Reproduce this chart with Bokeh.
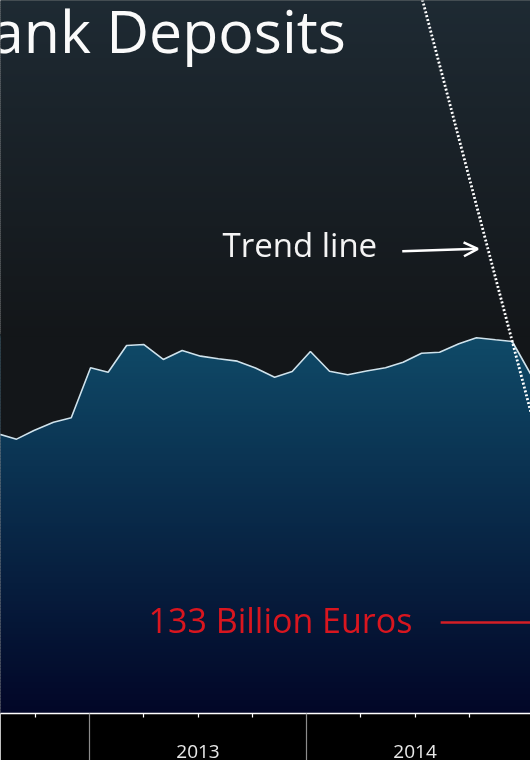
import numpy as np
from bokeh.plotting import figure
from bokeh.models import Range1d, FixedTicker, Arrow, OpenHead
from bokeh.core.properties import value
from bokeh.embed import file_html
from bokeh.resources import INLINE

# ---- data (decimal years, billion euros) ----
dates = [2012.581, 2012.664, 2012.744, 2012.834, 2012.916, 2013.005, 2013.086, 2013.171,
         2013.251, 2013.340, 2013.427, 2013.512, 2013.594, 2013.681, 2013.765, 2013.853,
         2013.934, 2014.018, 2014.106, 2014.190, 2014.276, 2014.364, 2014.445, 2014.530,
         2014.613, 2014.702, 2014.783, 2014.871, 2014.948, 2015.032]
deposits = [151.13, 150.63, 151.46, 152.26, 152.68, 157.49, 157.07, 159.63,
            159.73, 158.29, 159.15, 158.61, 158.36, 158.13, 157.47, 156.59,
            157.13, 159.06, 157.16, 156.82, 157.18, 157.49, 158.03, 158.89,
            158.99, 159.80, 160.38, 160.18, 160.02, 156.91]
trend_dates = [2014.52, 2015.08]
trend_values = [194.0, 149.54]
marker_level = 133.0
marker_label = "133 Billion Euros"
title_text = "ank Deposits"
trend_label = "Trend line"
quarter_ticks = [2012.75, 2013.25, 2013.5, 2013.75, 2014.25, 2014.5, 2014.75]
year_bounds = [2013.0, 2014.0]
year_label_pos = [2013.5, 2014.5]
year_labels = ["2013", "2014"]

X0, X1 = 2012.59, 2015.032
Y0 = 124.25
FRAME_H = 713
PX_PER_UNIT = 10.4
Y1 = Y0 + FRAME_H / PX_PER_UNIT

def yv(px):
    return Y1 - px * (Y1 - Y0) / FRAME_H

def hex2rgb(h):
    h = h.lstrip("#")
    return [int(h[i:i + 2], 16) for i in (0, 2, 4)]

def grad(c0, c1, n):
    a, b = np.array(hex2rgb(c0), float), np.array(hex2rgb(c1), float)
    out = []
    for t in np.linspace(0, 1, n):
        c = a + (b - a) * t
        out.append("#%02x%02x%02x" % tuple(int(round(v)) for v in c))
    return out

FONT = value("Open Sans")

def lift(size_px):
    # compensate the SVG baseline offset (~0.41 em)
    return 0.41 * size_px / PX_PER_UNIT

p = figure(frame_width=530, frame_height=FRAME_H, x_range=Range1d(X0, X1),
           y_range=Range1d(Y0, Y1),
           output_backend="svg", toolbar_location=None, min_border=0,
           styles={"position": "fixed", "left": "0px", "top": "0px"})
p.background_fill_color = "#131619"
p.border_fill_color = "#000000"
p.outline_line_color = None
p.grid.visible = False
p.yaxis.visible = False

# area gradient strips (full width, later covered above the series)
step = 3
tops = np.arange(334, FRAME_H, step)
cols = grad("#0f4a68", "#020627", len(tops))
p.quad(left=X0 - 1, right=X1 + 1, top=[yv(t - 0.6) for t in tops],
       bottom=[yv(min(t + step, FRAME_H + 5)) for t in tops],
       fill_color=cols, line_color=None)

# cover region above the series with the background colour
p.varea(x=dates, y1=deposits, y2=yv(333), fill_color="#131619")

# background gradient strips above the series
bstep = 2
btops = np.arange(-2, 336, bstep)
bcols = grad("#1e2a33", "#131619", len(btops))
p.quad(left=X0 - 1, right=X1 + 1, top=[yv(t - 0.6) for t in btops],
       bottom=[yv(t + bstep) for t in btops], fill_color=bcols, line_color=None)

# series outline
p.line(dates, deposits, line_color="#cfe2ec", line_width=1.6)

# trend line
p.line(trend_dates, trend_values, line_color="white", line_width=2.8, line_dash="2 2")

# marker line and label
p.segment(x0=[2014.618], y0=[marker_level], x1=[X1 + 0.1], y1=[marker_level],
          line_color="#d41f26", line_width=2.5)
p.text(x=[2013.272], y=[131.94 + lift(34)], text=[marker_label], text_color="#d9161f",
       text_font=FONT, text_font_size="34px", text_baseline="alphabetic")

# trend label and arrow
p.text(x=[2013.613], y=[168.03 + lift(33)], text=[trend_label], text_color="#f4f4f4",
       text_font=FONT, text_font_size="33px", text_baseline="alphabetic")
p.add_layout(Arrow(end=OpenHead(size=14, line_color="white", line_width=2.5),
                   x_start=2014.441, y_start=168.70, x_end=2014.789, y_end=168.93,
                   line_color="white", line_width=2.5))

# title (cropped)
p.text(x=[2012.546], y=[187.62 + lift(59)], text=[title_text], text_color="#fafafa",
       text_font=FONT, text_font_size="59px", text_baseline="alphabetic")

# x axis
ax = p.xaxis[0]
ax.ticker = FixedTicker(ticks=quarter_ticks, minor_ticks=year_bounds)
overrides = {float(t): "" for t in quarter_ticks}
for pos, lab in zip(year_label_pos, year_labels):
    overrides[float(pos)] = lab
ax.major_label_overrides = overrides
ax.axis_line_color = "white"
ax.axis_line_width = 1.5
ax.major_tick_line_color = "white"
ax.major_tick_line_width = 1.2
ax.major_tick_in = 0
ax.major_tick_out = 4
ax.minor_tick_line_color = "#8c8c8c"
ax.minor_tick_line_width = 1.2
ax.minor_tick_in = 0
ax.minor_tick_out = 48
ax.major_label_text_color = "#e8e8e8"
ax.major_label_text_font = "Open Sans"
ax.major_label_text_font_size = "19px"
ax.major_label_standoff = -17

open("out.html", "w").write(file_html(p, INLINE))
